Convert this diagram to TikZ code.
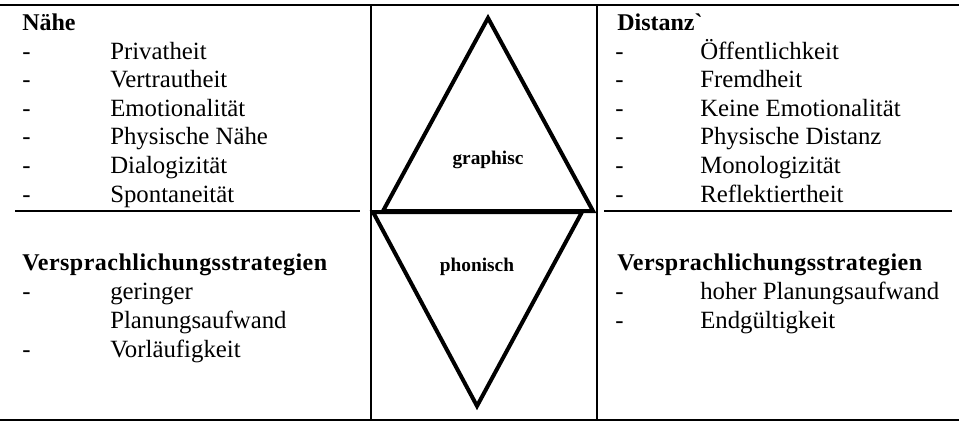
\documentclass[tikz,border=0pt]{standalone}
\usepackage{fontspec}
\setmainfont{Liberation Serif}
\begin{document}
\begin{tikzpicture}[x=0.75pt,y=-0.75pt,
  txt/.style={anchor=base west,inner sep=0pt,font=\fontsize{18.6}{22}\selectfont},
  head/.style={anchor=base west,inner sep=0pt,font=\fontsize{18}{21.6}\selectfont\bfseries},
  shead/.style={head,font=\fontsize{18}{21.6}\selectfont\bfseries\addfontfeatures{LetterSpace=2}},
  rule/.style={line width=1.2pt},
  tri/.style={line width=3pt,line join=miter},
  lab/.style={inner sep=0pt,font=\fontsize{14.5}{17}\selectfont\bfseries}]
\useasboundingbox (0,0) rectangle (959,422);
% table rules
\draw[rule] (0,5) -- (959,5);
\draw[rule] (0,420) -- (959,420);
\draw[rule] (371,5) -- (371,420);
\draw[rule] (597,5) -- (597,420);
\draw[rule] (15,211) -- (360,211);
\draw[rule] (604,211) -- (952,211);
% triangles
\coordinate (ga) at (488,18);
\coordinate (gl) at (383,211);
\coordinate (gr) at (593,211);
\draw[tri] (ga) -- (gl) -- (gr) -- cycle;
\coordinate (pl) at (373,212);
\coordinate (pr) at (582,212);
\coordinate (pa) at (477,406);
\draw[tri] (pl) -- (pr) -- (pa) -- cycle;
\node[lab] (graph) at (488,160) {graphisc};
\node[lab] (phon) at (477,267) {phonisch};
% left column
\node[head] (nahe) at (22,30) {Nähe};
\foreach \t [count=\i] in {Privatheit,Vertrautheit,Emotionalität,Physische Nähe,Dialogizität,Spontaneität}{
  \node[txt] (ld\i) at (22,{59+28.6*(\i-1)}) {-};
  \node[txt] (li\i) at (110,{59+28.6*(\i-1)}) {\t};
}
\node[shead] (lvs) at (22,270) {Versprachlichungsstrategien};
\node[txt] (lvd1) at (22,299) {-};
\node[txt] (lvi1) at (110,299) {geringer};
\node[txt] (lvi1b) at (110,328) {Planungsaufwand};
\node[txt] (lvd2) at (22,357) {-};
\node[txt] (lvi2) at (110,357) {Vorläufigkeit};
% right column
\node[head] (dist) at (617,30) {Distanz\textasciigrave};
\foreach \t [count=\i] in {Öffentlichkeit,Fremdheit,Keine Emotionalität,Physische Distanz,Monologizität,Reflektiertheit}{
  \node[txt] (rd\i) at (615,{59+28.6*(\i-1)}) {-};
  \node[txt] (ri\i) at (700,{59+28.6*(\i-1)}) {\t};
}
\node[shead] (rvs) at (617,270) {Versprachlichungsstrategien};
\node[txt] (rvd1) at (615,299) {-};
\node[txt] (rvi1) at (700,299) {hoher Planungsaufwand};
\node[txt] (rvd2) at (615,328) {-};
\node[txt] (rvi2) at (700,328) {Endgültigkeit};
\end{tikzpicture}
\end{document}
